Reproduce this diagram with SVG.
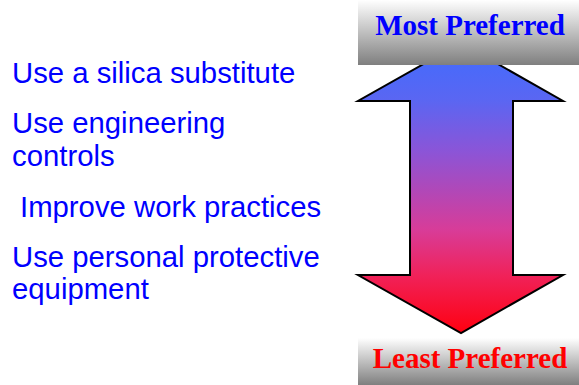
<svg xmlns="http://www.w3.org/2000/svg" width="579" height="385" viewBox="0 0 579 385">
<defs>
<linearGradient id="arrowGrad" x1="0" y1="43" x2="0" y2="333" gradientUnits="userSpaceOnUse">
<stop offset="0" stop-color="#3F6CFF"/>
<stop offset="0.197" stop-color="#5A66F2"/>
<stop offset="0.369" stop-color="#8A55D8"/>
<stop offset="0.507" stop-color="#B048B8"/>
<stop offset="0.645" stop-color="#D83C98"/>
<stop offset="0.8" stop-color="#F0225A"/>
<stop offset="1" stop-color="#FF0010"/>
</linearGradient>
<linearGradient id="boxGrad" x1="0" y1="0" x2="0" y2="1">
<stop offset="0" stop-color="#FFFFFF"/>
<stop offset="1" stop-color="#7F7F7F"/>
</linearGradient>
<style>
.item{font-family:"Liberation Sans",Arial,sans-serif;font-size:29.3px;fill:#0000FF}
.label{font-family:"Liberation Serif","Times New Roman",serif;font-size:29px;font-weight:bold;text-anchor:middle}
</style>
</defs>
<rect width="579" height="385" fill="#FFFFFF"/>
<g id="connectors">
<polygon points="461,43 563,101 513,101 513,275 563,275 461,333 358,275 410,275 410,101 358,101" fill="url(#arrowGrad)" stroke="#000000" stroke-width="2" stroke-linejoin="miter"/>
</g>
<g id="most-preferred">
<rect x="358" y="0" width="221" height="65" fill="url(#boxGrad)"/>
<text class="label" x="470" y="35" fill="#0000FF">Most Preferred</text>
</g>
<g id="least-preferred">
<rect x="358" y="338" width="221" height="47" fill="url(#boxGrad)"/>
<text class="label" x="470" y="368" fill="#FF0000">Least Preferred</text>
</g>
<g id="item1"><text class="item" x="12" y="83">Use a silica substitute</text></g>
<g id="item2"><text class="item" x="12" y="133">Use engineering</text><text class="item" x="12" y="166">controls</text></g>
<g id="item3"><text class="item" x="20" y="217">Improve work practices</text></g>
<g id="item4"><text class="item" x="12" y="267">Use personal protective</text><text class="item" x="12" y="299">equipment</text></g>
</svg>
